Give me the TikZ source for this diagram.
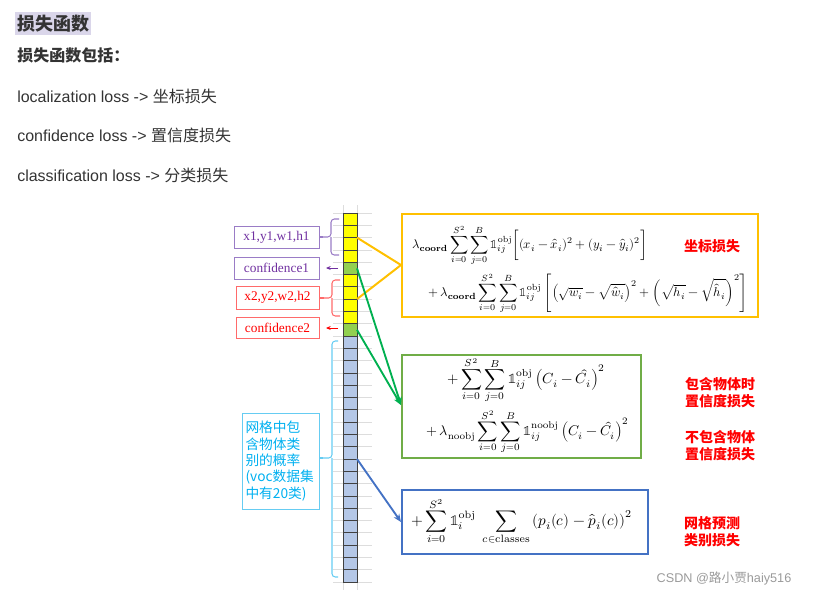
\documentclass[tikz,border=0pt]{standalone}
\usepackage{graphicx}
\usepackage{amsmath}
\usepackage{unicode-math}
\newfontfamily\arialf{Liberation Sans}
\newfontfamily\timesf{Liberation Serif}
\newfontfamily\cjk{Noto Sans CJK SC}
\usetikzlibrary{arrows.meta,calc}
\definecolor{txtc}{HTML}{333333}
\definecolor{hilite}{HTML}{DAD6EA}
\definecolor{celly}{HTML}{FFFF00}
\definecolor{cellg}{HTML}{92D050}
\definecolor{cellb}{HTML}{B4C7E7}
\definecolor{cellbd}{HTML}{404040}
\definecolor{gridc}{HTML}{DDDDDD}
\definecolor{orangec}{HTML}{FFC000}
\definecolor{greenc}{HTML}{70AD47}
\definecolor{greena}{HTML}{00B050}
\definecolor{bluec}{HTML}{4472C4}
\definecolor{purt}{HTML}{7030A0}
\definecolor{purb}{HTML}{9A7CC6}
\definecolor{redt}{HTML}{FF0000}
\definecolor{redb}{HTML}{FF6A6A}
\definecolor{cyant}{HTML}{00B0F0}
\definecolor{cyanb}{HTML}{66CCF2}
\definecolor{wmc}{HTML}{9A9A9A}
\newcommand{\indic}{\symbb{1}}
\tikzset{
  cellbox/.style={draw=cellbd, line width=0.6pt, minimum width=14*0.75pt, minimum height=12.3*0.75pt, inner sep=0pt, outer sep=0pt},
  tagbox/.style={draw, line width=0.6pt, inner sep=0pt, font=\timesf\fontsize{10}{12}\selectfont},
  lossbox/.style={draw, line width=1.5pt, inner sep=0pt},
  formula/.style={anchor=west, inner sep=0pt, font=\fontsize{10}{12}\selectfont},
  redlab/.style={text=redt, align=center, inner sep=0pt, font=\cjk\bfseries\fontsize{10.5}{12.8}\selectfont},
  bodytxt/.style={anchor=west, inner sep=0pt, text=txtc, font=\fontsize{12}{14}\selectfont},
  bracec/.style={line width=0.8pt, rounded corners=2.5pt},
}
\begin{document}
\begin{tikzpicture}[x=0.75pt, y=-0.75pt]
\useasboundingbox (0,0) rectangle (821,594);

% ---------- header text ----------
\fill[hilite] (15,12) rectangle (91,35);
\node[bodytxt, font=\cjk\bfseries\fontsize{13.5}{15}\selectfont] (title) at (17,23.5) {损失函数};
\node[bodytxt, font=\cjk\bfseries\fontsize{12}{14}\selectfont] (sub) at (17,55) {损失函数包括：};
\node[bodytxt] (l1) at (17,96) {\arialf localization loss -> {\cjk 坐标损失}};
\node[bodytxt] (l2) at (17,135) {\arialf confidence loss -> {\cjk 置信度损失}};
\node[bodytxt] (l3) at (17,175) {\arialf classification loss -> {\cjk 分类损失}};

% ---------- background grid ----------
\foreach \k in {0,...,30} {
  \draw[gridc, line width=0.5pt] (333,{213+\k*12.3}) -- (372,{213+\k*12.3});
}
\draw[gridc, line width=0.5pt] (343,205) -- (343,590);
\draw[gridc, line width=0.5pt] (357,205) -- (357,590);

% ---------- column of cells ----------
\foreach \i in {1,2,3,4,6,7,8,9} {
  \node[cellbox, fill=celly] (cell\i) at (350,{213+(\i-0.5)*12.3}) {};
}
\foreach \i in {5,10} {
  \node[cellbox, fill=cellg] (cell\i) at (350,{213+(\i-0.5)*12.3}) {};
}
\foreach \i in {11,...,30} {
  \node[cellbox, fill=cellb] (cell\i) at (350,{213+(\i-0.5)*12.3}) {};
}

% ---------- left tag boxes ----------
\node[tagbox, draw=purb, text=purt, minimum width=85*0.75pt, minimum height=22*0.75pt] (bx1) at (276.5,237) {x1,y1,w1,h1};
\node[tagbox, draw=purb, text=purt, minimum width=85*0.75pt, minimum height=22*0.75pt] (cf1) at (276.5,268) {confidence1};
\node[tagbox, draw=redb, text=redt, minimum width=83*0.75pt, minimum height=23*0.75pt] (bx2) at (277.5,297.5) {x2,y2,w2,h2};
\node[tagbox, draw=redb, text=redt, minimum width=83*0.75pt, minimum height=21*0.75pt] (cf2) at (277.5,327.5) {confidence2};
\node[draw=cyanb, line width=0.6pt, text=cyant, minimum width=77*0.75pt, minimum height=96*0.75pt, text width=70*0.75pt, align=left, inner sep=0pt, font=\cjk\fontsize{10.3}{12.2}\selectfont] (cls) at (280.5,461)
  {网格中包\\含物体类\\别的概率\\(voc数据集\\中有20类)};

% ---------- braces ----------
\draw[bracec, purb] (339,219) -- (331,219) -- (331,237) -- (323,237);
\draw[bracec, purb] (331,237) -- (331,255) -- (339,255);
\coordinate (bt1) at (323,237);
\draw[purb, line width=0.8pt] (bt1) -- (bx1.east);

\draw[bracec, redb] (340,280) -- (332,280) -- (332,298) -- (324,298);
\draw[bracec, redb] (332,298) -- (332,316) -- (340,316);
\coordinate (bt2) at (324,298);
\draw[redb, line width=0.8pt] (bt2) -- (bx2.east |- bt2);

\draw[bracec, cyanb] (338,341) -- (332,341) -- (332,458) -- (323,458);
\draw[bracec, cyanb] (332,458) -- (332,577) -- (338,577);
\coordinate (bt3) at (323,458);
\draw[cyanb, line width=0.8pt] (bt3) -- (cls.east |- bt3);

% ---------- confidence arrows ----------
\coordinate (a1s) at (338,268);
\coordinate (a1e) at (326,268);
\draw[purt, line width=0.7pt, -{Stealth[length=3.5pt,width=3pt]}] (a1s) -- (a1e);
\coordinate (a2s) at (338,328);
\coordinate (a2e) at (326,328);
\draw[redt, line width=0.7pt, -{Stealth[length=3.5pt,width=3pt]}] (a2s) -- (a2e);

% ---------- loss boxes ----------
\node[lossbox, draw=orangec, minimum width=356*0.75pt, minimum height=103*0.75pt] (ob) at (580,265.5) {};
\node[lossbox, draw=greenc, minimum width=239*0.75pt, minimum height=103*0.75pt] (gb) at (521.5,406.5) {};
\node[lossbox, draw=bluec, minimum width=246*0.75pt, minimum height=64*0.75pt] (bb) at (525,522) {};

% ---------- formulas ----------
\node[formula] (f1) at (412,245) {\resizebox{176pt}{!}{$\displaystyle \lambda_{\mathbf{coord}} \sum_{i=0}^{S^2}\sum_{j=0}^{B} \indic_{ij}^{\mathrm{obj}} \bigg[(x_i-\hat{x}_i)^2+(y_i-\hat{y}_i)^2\bigg]$}};
\node[formula] (f2) at (428,293) {\resizebox{240pt}{!}{$\displaystyle +\,\lambda_{\mathbf{coord}} \sum_{i=0}^{S^2}\sum_{j=0}^{B} \indic_{ij}^{\mathrm{obj}} \left[\left(\sqrt{w_i}-\sqrt{\hat{w}_i}\right)^2+\left(\sqrt{h_i}-\sqrt{\hat{h}_i}\right)^2\right]$}};
\node[formula] (f3) at (447,380) {\resizebox{118.5pt}{!}{$\displaystyle +\sum_{i=0}^{S^2}\sum_{j=0}^{B} \indic_{ij}^{\mathrm{obj}} \left(C_i-\hat{C}_i\right)^2$}};
\node[formula] (f4) at (426,432) {\resizebox{152pt}{!}{$\displaystyle +\,\lambda_{\mathrm{noobj}}\sum_{i=0}^{S^2}\sum_{j=0}^{B} \indic_{ij}^{\mathrm{noobj}} \left(C_i-\hat{C}_i\right)^2$}};
\node[formula] (f5) at (411,521) {\resizebox{166pt}{!}{$\displaystyle +\sum_{i=0}^{S^2} \indic_{i}^{\mathrm{obj}}\; \sum_{c\in\mathrm{classes}} \left(p_i(c)-\hat{p}_i(c)\right)^2$}};

% ---------- red labels ----------
\node[redlab] (r1) at (712,246) {坐标损失};
\node[redlab] (r2) at (720,393) {包含物体时\\置信度损失};
\node[redlab] (r3) at (720,446) {不包含物体\\置信度损失};
\node[redlab] (r4) at (712,532) {网格预测\\类别损失};

% ---------- connectors ----------
\coordinate (oin) at (ob.west |- 0,265);
\coordinate (gin) at (gb.west |- 0,405);
\coordinate (bin) at (bb.west |- 0,522);
\draw[orangec, line width=1.5pt] (cell2.south east) -- (oin);
\draw[orangec, line width=1.5pt] (cell7.south east) -- (oin);
\draw[greena, line width=1.4pt, -{Stealth[length=6pt,width=5pt]}] (cell5.east) -- (gin);
\draw[greena, line width=1.4pt, -{Stealth[length=6pt,width=5pt]}] (cell10.east) -- (gin);
\draw[bluec, line width=1.4pt, -{Stealth[length=6pt,width=5pt]}] (cell21.north east) -- (bin);

% ---------- watermark ----------
\node[inner sep=0pt, text=wmc, font=\fontsize{9.5}{11}\selectfont] (wm) at (724,578) {\arialf CSDN @{\cjk 路小贾}haiy516};
\end{tikzpicture}
\end{document}
